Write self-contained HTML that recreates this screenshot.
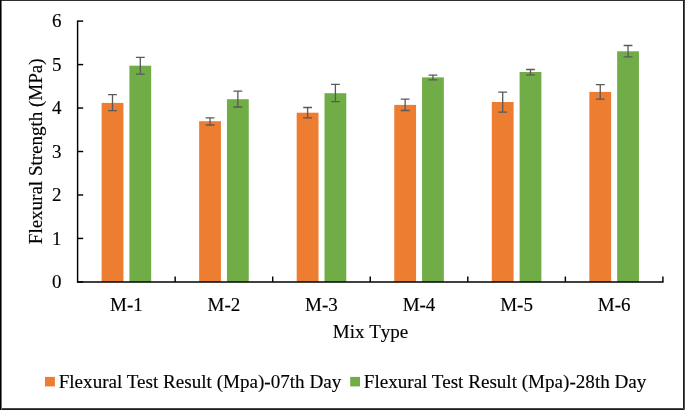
<!DOCTYPE html>
<html lang="en">
<head>
<meta charset="utf-8">
<title>Flexural Strength by Mix Type</title>
<style>
html,body{margin:0;padding:0;background:#fff;}
body{width:685px;height:410px;overflow:hidden;position:relative;}
svg{position:absolute;left:0;top:0;display:block;will-change:transform;}
text{font-family:"Liberation Serif","Times New Roman",Times,serif;font-size:19px;fill:#000;stroke:#000;stroke-width:0.14px;}
</style>
</head>
<body>
<svg width="685" height="410" viewBox="0 0 685 410">
<rect x="0" y="0" width="685" height="410" fill="#ffffff"/>

<rect x="101.60" y="102.90" width="21.8" height="179.00" fill="#ED7D31"/>
<rect x="129.40" y="65.70" width="21.8" height="216.20" fill="#70AD47"/>
<rect x="199.15" y="121.20" width="21.8" height="160.70" fill="#ED7D31"/>
<rect x="226.95" y="99.20" width="21.8" height="182.70" fill="#70AD47"/>
<rect x="296.70" y="112.70" width="21.8" height="169.20" fill="#ED7D31"/>
<rect x="324.50" y="93.20" width="21.8" height="188.70" fill="#70AD47"/>
<rect x="394.25" y="104.90" width="21.8" height="177.00" fill="#ED7D31"/>
<rect x="422.05" y="77.40" width="21.8" height="204.50" fill="#70AD47"/>
<rect x="491.80" y="102.00" width="21.8" height="179.90" fill="#ED7D31"/>
<rect x="519.60" y="72.00" width="21.8" height="209.90" fill="#70AD47"/>
<rect x="589.35" y="91.90" width="21.8" height="190.00" fill="#ED7D31"/>
<rect x="617.15" y="51.30" width="21.8" height="230.60" fill="#70AD47"/>
<g stroke="#595959" stroke-width="1.3" fill="none">
<path d="M112.50 94.70V110.60M108.10 94.70H116.90M108.10 110.60H116.90"/>
<path d="M140.30 57.30V74.10M135.90 57.30H144.70M135.90 74.10H144.70"/>
<path d="M210.05 117.80V125.00M205.65 117.80H214.45M205.65 125.00H214.45"/>
<path d="M237.85 91.20V107.00M233.45 91.20H242.25M233.45 107.00H242.25"/>
<path d="M307.60 107.50V117.80M303.20 107.50H312.00M303.20 117.80H312.00"/>
<path d="M335.40 84.30V101.70M331.00 84.30H339.80M331.00 101.70H339.80"/>
<path d="M405.15 99.20V110.50M400.75 99.20H409.55M400.75 110.50H409.55"/>
<path d="M432.95 75.20V79.80M428.55 75.20H437.35M428.55 79.80H437.35"/>
<path d="M502.70 92.20V112.10M498.30 92.20H507.10M498.30 112.10H507.10"/>
<path d="M530.50 69.50V74.90M526.10 69.50H534.90M526.10 74.90H534.90"/>
<path d="M600.25 84.60V99.10M595.85 84.60H604.65M595.85 99.10H604.65"/>
<path d="M628.05 45.50V56.80M623.65 45.50H632.45M623.65 56.80H632.45"/>
</g>
<g stroke="#000" stroke-width="1.45" fill="none">
<path d="M77.60 20.47V282.55"/>
<path d="M76.95 281.90H663.55"/>
<path d="M77.60 281.90h5.6"/>
<path d="M77.60 238.44h5.6"/>
<path d="M77.60 194.97h5.6"/>
<path d="M77.60 151.51h5.6"/>
<path d="M77.60 108.05h5.6"/>
<path d="M77.60 64.58h5.6"/>
<path d="M77.60 21.12h5.6"/>
<path d="M175.15 281.90v-5.4"/>
<path d="M272.70 281.90v-5.4"/>
<path d="M370.25 281.90v-5.4"/>
<path d="M467.80 281.90v-5.4"/>
<path d="M565.35 281.90v-5.4"/>
<path d="M662.90 281.90v-5.4"/>
</g>
<text x="61.6" y="288.20" text-anchor="end">0</text>
<text x="61.6" y="244.74" text-anchor="end">1</text>
<text x="61.6" y="201.27" text-anchor="end">2</text>
<text x="61.6" y="157.81" text-anchor="end">3</text>
<text x="61.6" y="114.35" text-anchor="end">4</text>
<text x="61.6" y="70.88" text-anchor="end">5</text>
<text x="61.6" y="27.42" text-anchor="end">6</text>
<text x="126.38" y="310.6" text-anchor="middle">M-1</text>
<text x="223.92" y="310.6" text-anchor="middle">M-2</text>
<text x="321.48" y="310.6" text-anchor="middle">M-3</text>
<text x="419.02" y="310.6" text-anchor="middle">M-4</text>
<text x="516.57" y="310.6" text-anchor="middle">M-5</text>
<text x="614.12" y="310.6" text-anchor="middle">M-6</text>
<text x="370.5" y="337.7" text-anchor="middle" style="font-kerning:none">Mix Type</text>
<text transform="translate(42.3 151.3) rotate(-90)" text-anchor="middle">Flexural Strength (MPa)</text>
<rect x="45" y="376.9" width="9.9" height="9.5" fill="#ED7D31"/>
<text x="58.7" y="387.7" style="font-size:19.1px">Flexural Test Result (Mpa)-07th Day</text>
<rect x="350.2" y="376.9" width="9.8" height="9.5" fill="#70AD47"/>
<text x="363.8" y="387.7" style="font-size:19.1px">Flexural Test Result (Mpa)-28th Day</text>
<rect x="683" y="0" width="1" height="410" fill="#1e1e1e"/>
<rect x="684" y="0" width="1" height="410" fill="#4c4c4c"/>
<rect x="0" y="408" width="685" height="1" fill="#484848"/>
<rect x="0" y="409" width="684" height="1" fill="#1c1c1c"/>
<rect x="684" y="409" width="1" height="1" fill="#7a7a7a"/>
<rect x="0" y="0" width="1" height="410" fill="#000"/>
<rect x="1" y="0" width="1" height="410" fill="#707070"/>
<rect x="0" y="0" width="685" height="1" fill="#2e2e2e"/>
<rect x="0" y="0" width="1" height="410" fill="#000"/>
</svg>
</body>
</html>
